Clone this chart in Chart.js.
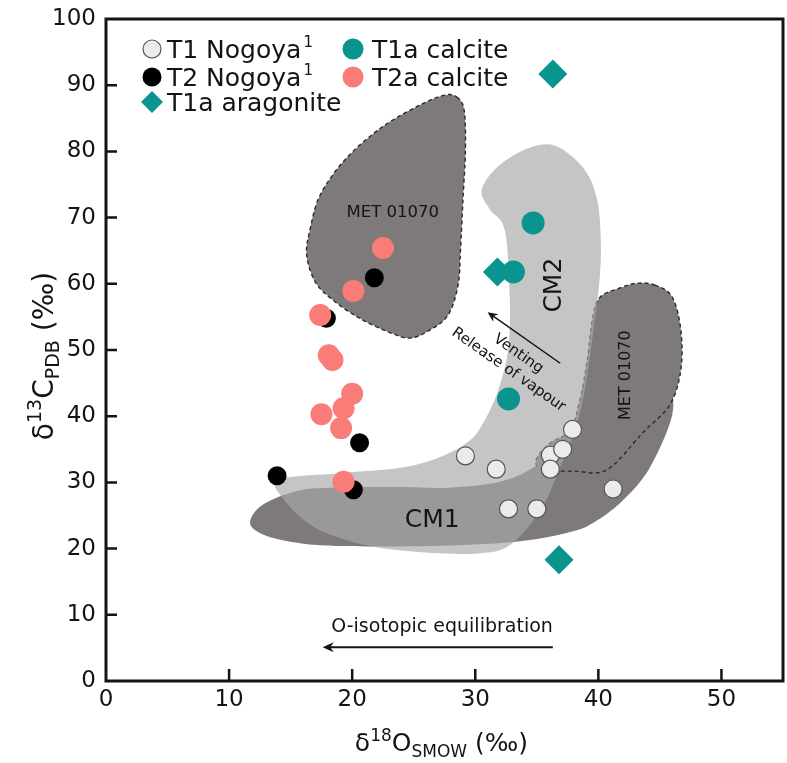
<!DOCTYPE html>
<html>
<head>
<meta charset="utf-8">
<script src="https://cdn.jsdelivr.net/npm/chart.js@4.4.1/dist/chart.umd.min.js"></script>
<style>
  html, body { margin: 0; padding: 0; background: #fff; }
  #wrap { width: 787px; height: 763px; position: relative; }
</style>
</head>
<body>
<div id="wrap"><canvas id="c" width="787" height="763"></canvas></div>
<script>
// ---- axis ticks ----
const xTicks = [0, 10, 20, 30, 40, 50];
const yTicks = [0, 10, 20, 30, 40, 50, 60, 70, 80, 90, 100];

// ---- series (d18O SMOW, d13C PDB) ----
const t1NogoyaX = [29.2, 31.7, 32.7, 35.0, 36.1, 37.1, 37.9, 36.1, 41.2];
const t1NogoyaY = [34.0, 32.0, 26.0, 26.0, 34.1, 35.0, 38.0, 32.0, 29.0];

const t2NogoyaX = [13.9, 20.1, 20.6, 21.8, 17.9];
const t2NogoyaY = [31.0, 28.9, 36.0, 60.9, 54.8];

const t1aCalciteX = [34.7, 33.1, 32.7];
const t1aCalciteY = [69.2, 61.8, 42.6];

const t2aCalciteX = [22.5, 20.1, 17.4, 18.1, 18.4, 20.0, 19.3, 17.5, 19.1, 19.3];
const t2aCalciteY = [65.4, 58.9, 55.3, 49.2, 48.5, 43.4, 41.2, 40.3, 38.2, 30.1];

const t1aAragoniteX = [36.3, 31.8, 36.8];
const t1aAragoniteY = [91.7, 61.8, 18.3];

const legendLabels = ['T1 Nogoya', 'T2 Nogoya', 'T1a aragonite', 'T1a calcite', 'T2a calcite'];

// ---- field outlines (d18O, d13C) ----
const metUpper = [
  [28.5, 88.2], [29.1, 86.2], [29.2, 80.2], [29.0, 72.7], [28.8, 65.1], [28.6, 59.8],
  [27.8, 55.3], [26.3, 53.0], [24.7, 51.8], [23.1, 52.6], [20.6, 54.8], [18.4, 57.6],
  [17.0, 60.3], [16.3, 64.4], [16.6, 68.4], [17.4, 73.4], [19.4, 78.7], [22.3, 83.5],
  [25.5, 87.0], [27.5, 88.5]
];
const metLower = [
  [44.6, 59.8], [46.0, 58.0], [46.7, 53.0], [46.7, 47.0], [45.8, 41.7], [43.6, 37.5],
  [40.7, 31.9], [38.1, 31.7], [35.7, 31.9], [34.9, 33.1], [35.9, 35.7], [37.7, 37.9],
  [38.5, 42.5], [39.1, 48.5], [39.5, 54.5], [40.1, 57.9], [41.8, 59.4], [43.2, 60.1]
];
const cm1Field = [
  [11.7, 23.9], [12.7, 26.6], [15.5, 28.7], [18.2, 29.2], [23.9, 29.3], [27.9, 29.2],
  [32.0, 30.1], [34.7, 32.2], [36.9, 35.7], [40.1, 39.4], [43.5, 42.8], [45.6, 44.3],
  [46.0, 40.2], [44.2, 32.3], [42.0, 27.3], [39.6, 23.9], [37.5, 22.4], [33.1, 21.0],
  [26.3, 20.4], [19.0, 20.4], [15.5, 20.9], [12.8, 22.1]
];
const cm2Field = [
  [14.0, 30.4], [14.5, 27.3], [16.6, 23.6], [19.0, 21.6], [22.3, 20.1], [27.1, 19.3],
  [30.4, 19.3], [32.8, 20.5], [35.3, 25.8], [36.9, 32.3], [38.1, 37.9], [38.9, 44.0],
  [39.6, 53.0], [40.1, 60.6], [40.2, 66.6], [39.9, 72.7], [38.9, 77.2], [36.9, 80.5],
  [35.3, 81.0], [33.2, 79.5], [31.4, 76.9], [30.5, 73.9], [31.2, 71.2], [32.4, 68.1],
  [32.8, 58.0], [32.7, 50.5], [32.0, 44.7], [31.0, 40.2], [29.6, 36.4], [27.1, 33.8],
  [23.9, 32.2], [19.0, 31.4]
];

const FONT = "'DejaVu Sans', sans-serif";
const INK = '#141414';
const TEAL = '#0a948f';
const SALMON = '#fa7c78';
const FIELD_DARK = '#7e7a7a';
const FIELD_LIGHT = 'rgba(168,168,168,0.67)';

function pairs(xs, ys) { return xs.map((x, i) => ({ x: x, y: ys[i] })); }

function toPx(chart, p) {
  return [chart.scales.x.getPixelForValue(p[0]), chart.scales.y.getPixelForValue(p[1])];
}

// closed Catmull-Rom curve through the outline vertices
function smoothClosed(c, pts) {
  const n = pts.length;
  c.beginPath();
  c.moveTo(pts[0][0], pts[0][1]);
  for (let i = 0; i < n; i++) {
    const p0 = pts[(i - 1 + n) % n], p1 = pts[i], p2 = pts[(i + 1) % n], p3 = pts[(i + 2) % n];
    c.bezierCurveTo(
      p1[0] + (p2[0] - p0[0]) / 6, p1[1] + (p2[1] - p0[1]) / 6,
      p2[0] - (p3[0] - p1[0]) / 6, p2[1] - (p3[1] - p1[1]) / 6,
      p2[0], p2[1]);
  }
  c.closePath();
}

function drawField(chart, outline, fill, dashed) {
  const c = chart.ctx;
  const pts = outline.map(p => toPx(chart, p));
  smoothClosed(c, pts);
  c.fillStyle = fill;
  c.fill();
  if (dashed) {
    c.setLineDash([4, 3]);
    c.lineWidth = 1.4;
    c.strokeStyle = '#2a2a2a';
    c.stroke();
    c.setLineDash([]);
  }
}

function label(c, text, x, y, size, rot) {
  c.save();
  c.translate(x, y);
  c.rotate(rot || 0);
  c.font = size + 'px ' + FONT;
  c.fillStyle = INK;
  c.textAlign = 'center';
  c.textBaseline = 'middle';
  c.fillText(text, 0, 0);
  c.restore();
}

function arrow(c, x1, y1, x2, y2, lw, head) {
  const a = Math.atan2(y2 - y1, x2 - x1);
  c.save();
  c.strokeStyle = INK;
  c.fillStyle = INK;
  c.lineWidth = lw;
  c.beginPath();
  c.moveTo(x1, y1);
  c.lineTo(x2 - Math.cos(a) * head * 0.6, y2 - Math.sin(a) * head * 0.6);
  c.stroke();
  c.beginPath();
  c.moveTo(x2, y2);
  c.lineTo(x2 - Math.cos(a) * head + Math.sin(a) * head * 0.45, y2 - Math.sin(a) * head - Math.cos(a) * head * 0.45);
  c.lineTo(x2 - Math.cos(a) * head * 0.7, y2 - Math.sin(a) * head * 0.7);
  c.lineTo(x2 - Math.cos(a) * head - Math.sin(a) * head * 0.45, y2 - Math.sin(a) * head + Math.cos(a) * head * 0.45);
  c.closePath();
  c.fill();
  c.restore();
}

// text with super/subscript runs, centred on (0,0) of the current transform
function richText(c, parts, size, smallSize) {
  let total = 0;
  parts.forEach(p => {
    c.font = (p.sup || p.sub ? smallSize : size) + 'px ' + FONT;
    p.w = c.measureText(p.t).width;
    total += p.w;
  });
  let x = -total / 2;
  c.textBaseline = 'alphabetic';
  c.textAlign = 'left';
  c.fillStyle = INK;
  parts.forEach(p => {
    c.font = (p.sup || p.sub ? smallSize : size) + 'px ' + FONT;
    const dy = p.sup ? -size * 0.42 : (p.sub ? size * 0.22 : 0);
    c.fillText(p.t, x, dy);
    x += p.w;
  });
}

const fieldsPlugin = {
  id: 'fields',
  beforeDatasetsDraw(chart) {
    const c = chart.ctx;
    c.save();
    drawField(chart, cm1Field, FIELD_DARK, false);
    drawField(chart, metLower, FIELD_DARK, true);
    drawField(chart, metUpper, FIELD_DARK, true);
    drawField(chart, cm2Field, FIELD_LIGHT, false);

    let p;
    p = toPx(chart, [23.3, 70.7]); label(c, 'MET 01070', p[0], p[1], 16.5, 0);
    p = toPx(chart, [36.4, 59.8]); label(c, 'CM2', p[0], p[1], 25, -Math.PI / 2);
    p = toPx(chart, [42.2, 46.2]); label(c, 'MET 01070', p[0], p[1], 16, -Math.PI / 2);
    p = toPx(chart, [26.5, 24.3]); label(c, 'CM1', p[0], p[1], 25, 0);

    const ang = 35 * Math.PI / 180;
    p = toPx(chart, [33.5, 49.4]); label(c, 'Venting', p[0], p[1], 15, ang);
    p = toPx(chart, [32.7, 47.0]); label(c, 'Release of vapour', p[0], p[1], 15, ang);
    const a1 = toPx(chart, [36.9, 48.0]), a2 = toPx(chart, [31.0, 55.7]);
    arrow(c, a1[0], a1[1], a2[0], a2[1], 1.5, 10);

    p = toPx(chart, [27.3, 8.2]); label(c, 'O-isotopic equilibration', p[0], p[1], 19, 0);
    const b1 = toPx(chart, [36.3, 5.1]), b2 = toPx(chart, [17.6, 5.1]);
    arrow(c, b1[0], b1[1], b2[0], b2[1], 2, 11);
    c.restore();
  }
};

const framePlugin = {
  id: 'frame',
  afterDatasetsDraw(chart) {
    const c = chart.ctx, a = chart.chartArea;
    const xs = chart.scales.x, ys = chart.scales.y;
    c.save();
    c.strokeStyle = INK;
    c.lineWidth = 2.5;
    c.beginPath();
    xTicks.forEach(v => {
      if (v === xs.min) return;
      const x = xs.getPixelForValue(v);
      c.moveTo(x, a.bottom); c.lineTo(x, a.bottom - 12);
    });
    yTicks.forEach(v => {
      if (v === ys.min || v === ys.max) return;
      const y = ys.getPixelForValue(v);
      c.moveTo(a.left, y); c.lineTo(a.left + 11, y);
    });
    c.stroke();
    c.lineWidth = 3;
    c.strokeRect(a.left, a.top, a.right - a.left, a.bottom - a.top);
    c.restore();
  },
  afterDraw(chart) {
    const c = chart.ctx, a = chart.chartArea;
    c.save();
    // axis titles
    c.translate((a.left + a.right) / 2 - 3, 751);
    richText(c, [{ t: 'δ' }, { t: '18', sup: true }, { t: 'O' }, { t: 'SMOW', sub: true }, { t: ' (‰)' }], 25, 17);
    c.restore();
    c.save();
    c.translate(53, (a.top + a.bottom) / 2 + 6);
    c.rotate(-Math.PI / 2);
    richText(c, [{ t: 'δ' }, { t: '13', sup: true }, { t: 'C' }, { t: 'PDB', sub: true }, { t: ' (‰)' }], 28, 19);
    c.restore();

    // legend: two columns, markers then labels
    const styles = [
      { shape: 'circle', fill: '#ebebeb', stroke: '#555', r: 9, sup: '1' },
      { shape: 'circle', fill: '#000', stroke: null, r: 9.5, sup: '1' },
      { shape: 'diamond', fill: TEAL, stroke: null, r: 11 },
      { shape: 'circle', fill: TEAL, stroke: null, r: 10.5 },
      { shape: 'circle', fill: SALMON, stroke: null, r: 10.5 }
    ];
    const markX = [152, 353], textX = [167, 372], rows = [49, 77, 102];
    c.save();
    legendLabels.forEach((txt, i) => {
      const col = i < 3 ? 0 : 1, row = i < 3 ? i : i - 3;
      const s = styles[i];
      const mx = markX[col], my = rows[row];
      c.beginPath();
      if (s.shape === 'circle') {
        c.arc(mx, my, s.r, 0, Math.PI * 2);
      } else {
        c.moveTo(mx, my - s.r); c.lineTo(mx + s.r, my); c.lineTo(mx, my + s.r); c.lineTo(mx - s.r, my); c.closePath();
      }
      c.fillStyle = s.fill; c.fill();
      if (s.stroke) { c.lineWidth = 1.2; c.strokeStyle = s.stroke; c.stroke(); }
      c.font = '25px ' + FONT;
      c.fillStyle = INK;
      c.textAlign = 'left';
      c.textBaseline = 'alphabetic';
      const tx = textX[col];
      c.fillText(txt, tx, my + 8.5);
      if (s.sup) {
        const w = c.measureText(txt).width;
        c.font = '15px ' + FONT;
        c.fillText(s.sup, tx + w + 2, my - 2);
      }
    });
    c.restore();
  }
};

const tickFont = { family: FONT, size: 23 };

new Chart(document.getElementById('c'), {
  type: 'scatter',
  data: {
    datasets: [
      { label: legendLabels[4], data: pairs(t2aCalciteX, t2aCalciteY), pointStyle: 'circle',
        backgroundColor: SALMON, borderWidth: 0, pointRadius: 11 },
      { label: legendLabels[3], data: pairs(t1aCalciteX, t1aCalciteY), pointStyle: 'circle',
        backgroundColor: TEAL, borderWidth: 0, pointRadius: 11.5 },
      { label: legendLabels[2], data: pairs(t1aAragoniteX, t1aAragoniteY), pointStyle: 'rectRot',
        backgroundColor: TEAL, borderWidth: 0, pointRadius: 14.5 },
      { label: legendLabels[1], data: pairs(t2NogoyaX, t2NogoyaY), pointStyle: 'circle',
        backgroundColor: '#000', borderWidth: 0, pointRadius: 9.5 },
      { label: legendLabels[0], data: pairs(t1NogoyaX, t1NogoyaY), pointStyle: 'circle',
        backgroundColor: '#ebebeb', borderColor: '#555', borderWidth: 1.2, pointRadius: 9 }
    ]
  },
  options: {
    responsive: false,
    animation: false,
    devicePixelRatio: 1,
    layout: { autoPadding: false, padding: { top: 19, right: 4, left: 0, bottom: 0 } },
    plugins: { legend: { display: false }, tooltip: { enabled: false } },
    scales: {
      x: {
        type: 'linear', min: 0, max: 55,
        afterBuildTicks: s => { s.ticks = xTicks.map(v => ({ value: v })); },
        afterFit: s => { s.height = 82; s.paddingLeft = 0; s.paddingRight = 0; },
        ticks: { font: tickFont, color: INK, padding: 5 },
        grid: { display: false, drawTicks: false },
        border: { display: false }
      },
      y: {
        type: 'linear', min: 0, max: 100,
        afterBuildTicks: s => { s.ticks = yTicks.map(v => ({ value: v })); },
        afterFit: s => { s.width = 106; s.paddingTop = 0; s.paddingBottom = 0; },
        ticks: { font: tickFont, color: INK, padding: 10 },
        grid: { display: false, drawTicks: false },
        border: { display: false }
      }
    }
  },
  plugins: [fieldsPlugin, framePlugin]
});
</script>
</body>
</html>
